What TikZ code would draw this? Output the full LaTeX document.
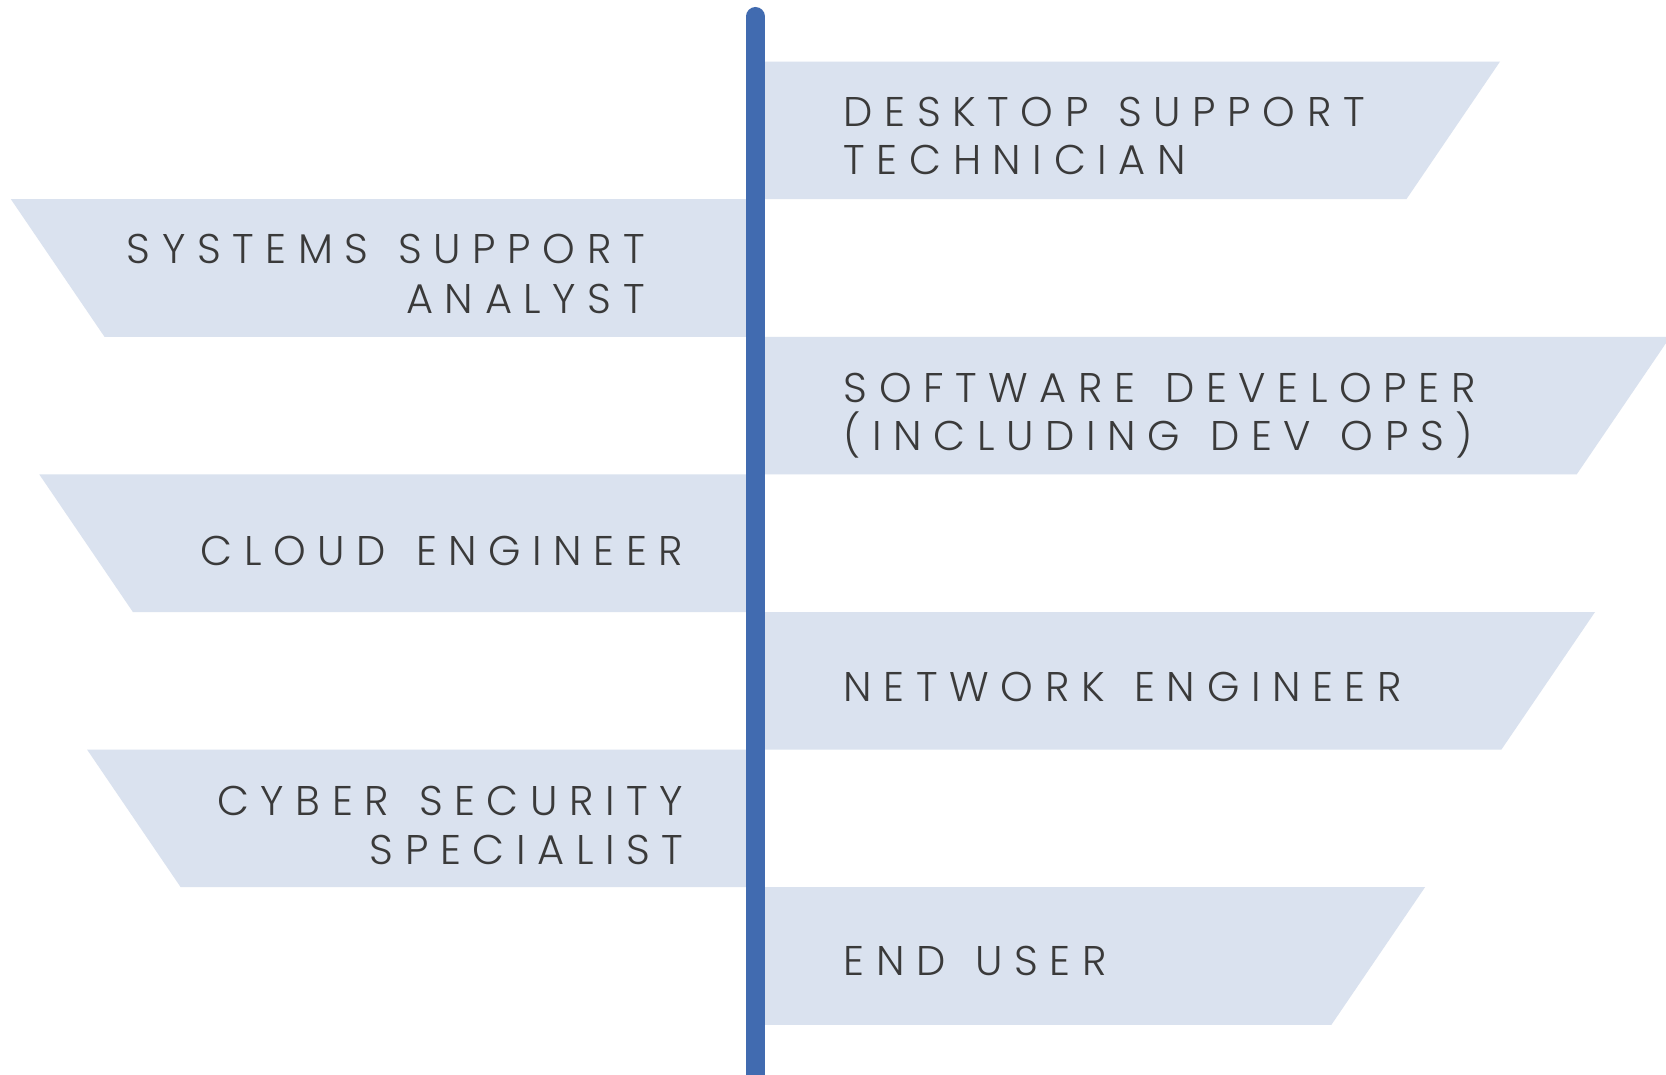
\documentclass[tikz,border=0pt]{standalone}
\usepackage{fontspec}
\setmainfont{Poppins}[UprightFont=* Light, LetterSpace=28, WordSpace=1.3]
\definecolor{stripblue}{HTML}{DAE2EF}
\definecolor{barblue}{HTML}{416BB0}
\definecolor{txtgray}{HTML}{3A3A3A}
\begin{document}
\begin{tikzpicture}[x=1pt,y=-1pt,
  lbl/.style={inner sep=0pt, font=\fontsize{41.5}{48}\selectfont, text=txtgray},
  rlbl/.style={lbl, anchor=base west},
  llbl/.style={lbl, anchor=base east},
  strip/.style={fill=stripblue, draw=none}]
\useasboundingbox (0,0) rectangle (1666,1075);
\fill[white] (0,0) rectangle (1666,1075);
\clip (0,0) rectangle (1666,1075);
% right strips
\fill[strip] (750,61.6) -- (1500,61.6) -- (1406.4,199.2) -- (750,199.2) -- cycle;
\fill[strip] (750,336.8) -- (1670.3,336.8) -- (1576.7,474.4) -- (750,474.4) -- cycle;
\fill[strip] (750,612.0) -- (1595,612.0) -- (1501.4,749.6) -- (750,749.6) -- cycle;
\fill[strip] (750,887.2) -- (1425,887.2) -- (1331.4,1024.8) -- (750,1024.8) -- cycle;
% left strips
\fill[strip] (10.9,199.2) -- (760,199.2) -- (760,336.8) -- (104.5,336.8) -- cycle;
\fill[strip] (39.3,474.4) -- (760,474.4) -- (760,612.0) -- (132.9,612.0) -- cycle;
\fill[strip] (87.1,749.6) -- (760,749.6) -- (760,887.2) -- (180.7,887.2) -- cycle;
% bar
\coordinate (bartop) at (755.4,16.5);
\coordinate (barbot) at (755.4,1100);
\draw[barblue, line width=19pt, line cap=round] (bartop) -- (barbot);
% labels
\node[rlbl] (r1a) at (843.5,126.6) {DESKTOP SUPPORT};
\node[rlbl] (r1b) at (843.5,174.1) {TECHNICIAN};
\node[llbl] (l1a) at (645,263.5) {SYSTEMS SUPPORT};
\node[llbl] (l1b) at (645,313.2) {ANALYST};
\node[rlbl] (r2a) at (843.5,402.8) {SOFTWARE DEVELOPER};
\node[rlbl] (r2b) at (843.5,450.5) {(INCLUDING DEV OPS)};
\node[llbl] (l2a) at (683.5,565) {CLOUD ENGINEER};
\node[rlbl] (r3a) at (843.5,701.5) {NETWORK ENGINEER};
\node[llbl] (l3a) at (683.5,815.6) {CYBER SECURITY};
\node[llbl] (l3b) at (683.5,864.6) {SPECIALIST};
\node[rlbl] (r4a) at (843.5,975.5) {END USER};
\end{tikzpicture}
\end{document}
